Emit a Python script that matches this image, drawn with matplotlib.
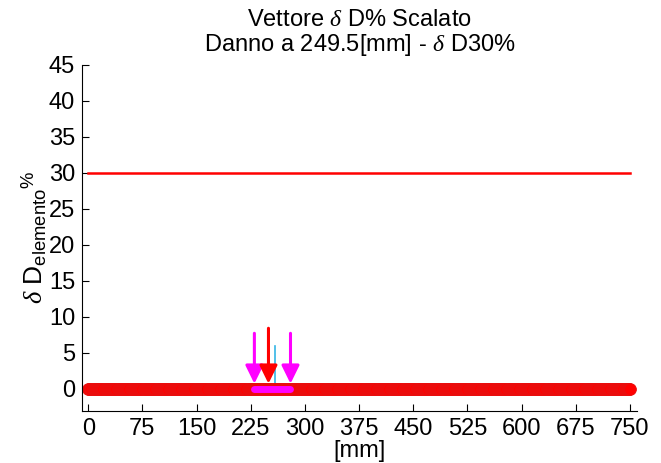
import numpy as np
import matplotlib
matplotlib.use("Agg")
import matplotlib.pyplot as plt

plt.rcParams['font.family'] = ['Liberation Sans', 'DejaVu Sans']
plt.rcParams['mathtext.fontset'] = 'custom'
plt.rcParams['mathtext.rm'] = 'Liberation Sans'
plt.rcParams['mathtext.it'] = 'Liberation Serif:italic'

# data
elem_x = np.arange(0, 750.01, 1.5)          # element positions [mm]
elem_val = np.zeros_like(elem_x)             # scaled delta D% per element
threshold_x = [0, 750]
threshold_y = [30, 30]
zone_x = [230, 280]                          # damaged zone limits [mm]
damage_x = 249.5                             # damage location [mm]
peak_x = 258
peak_y = 5.9
arrow_top_zone = 7.7
arrow_top_damage = 8.4
arrow_tip = 0.7

xticks = list(range(0, 751, 75))
yticks = list(range(0, 46, 5))

fig = plt.figure(figsize=(6.61, 4.63), dpi=100)
ax = fig.add_axes([0.124, 0.113, 0.840, 0.747])

ax.plot([peak_x, peak_x], [0, peak_y], color='#33b5e5', lw=1.2, zorder=1)
ax.plot(elem_x, elem_val, color='red', lw=2, marker='o', markersize=8.5,
        markerfacecolor='red', markeredgecolor='#e81010', markeredgewidth=0.6, zorder=2)
ax.plot(threshold_x, threshold_y, color='red', lw=1.8, zorder=2)
ax.plot(zone_x, [0, 0], color='magenta', lw=5, solid_capstyle='round', zorder=3)

style = '-|>,head_length=0.55,head_width=0.27'
for zx in zone_x:
    ax.annotate('', xy=(zx, arrow_tip), xytext=(zx, arrow_top_zone),
                arrowprops=dict(arrowstyle=style, color='magenta', lw=2.2,
                                mutation_scale=20, shrinkA=0, shrinkB=0), zorder=4)
ax.annotate('', xy=(damage_x, arrow_tip), xytext=(damage_x, arrow_top_damage),
            arrowprops=dict(arrowstyle=style, color='red', lw=2.2,
                            mutation_scale=20, shrinkA=0, shrinkB=0), zorder=5)

ax.set_xlim(-8.7, 760)
ax.set_ylim(-3.05, 45)
ax.set_xticks(xticks)
ax.set_yticks(yticks)
ax.tick_params(direction='in', length=5, width=0.8, labelsize=17, colors='black', pad=5)
for s in ['top', 'right']:
    ax.spines[s].set_visible(False)
for s in ['left', 'bottom']:
    ax.spines[s].set_linewidth(0.8)

ax.set_title('Vettore $\\it{\u03b4}$ D% Scalato\nDanno a 249.5[mm] - $\\it{\u03b4}$ D30%',
             fontsize=17, pad=10, linespacing=1.05)
ax.set_xlabel('[mm]', fontsize=17, labelpad=0)
ax.set_ylabel('$\\it{\u03b4}$ D$_{\\rm elemento}$$^{\\%}$', fontsize=19, labelpad=0)

fig.savefig('out.png', dpi=100)
